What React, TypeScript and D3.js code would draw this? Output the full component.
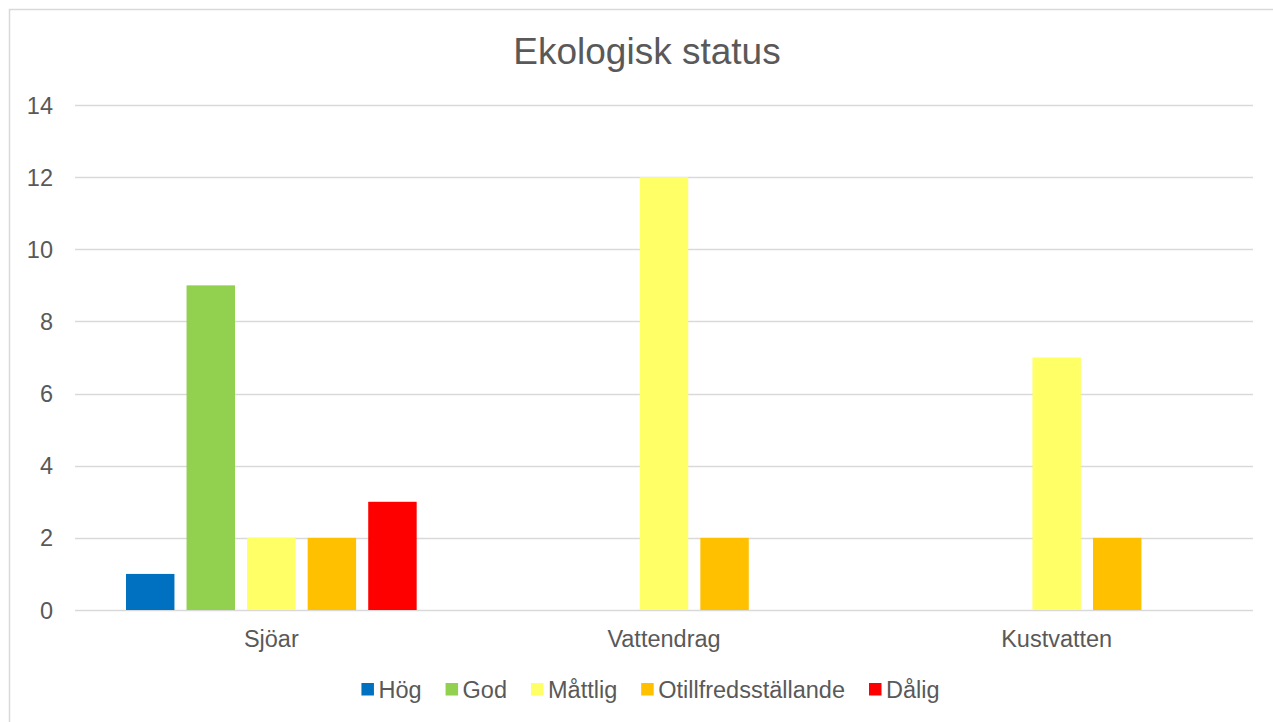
import React, { useEffect, useRef } from 'react';
import * as d3 from 'd3';

const categories = ['Sjöar', 'Vattendrag', 'Kustvatten'];
const seriesNames = ['Hög', 'God', 'Måttlig', 'Otillfredsställande', 'Dålig'];
const seriesColors = ['#0070C0', '#92D050', '#FFFF66', '#FFC000', '#FF0000'];
// values per series, one per category
const hog = [1, 0, 0];
const god = [9, 0, 0];
const mattlig = [2, 12, 7];
const otillfreds = [2, 2, 2];
const dalig = [3, 0, 0];
const yTicks = [0, 2, 4, 6, 8, 10, 12, 14];

const seriesValues = [hog, god, mattlig, otillfreds, dalig];

const W = 1273;
const H = 722;
const FONT = '"Liberation Sans", Arial, sans-serif';

export default function App() {
  const ref = useRef<SVGSVGElement>(null);

  useEffect(() => {
    const svg = d3.select(ref.current);
    svg.selectAll('*').remove();

    const left = 75, right = 1253, top = 105, bottom = 610;

    // chart border
    svg.append('rect')
      .attr('x', 9.5).attr('y', 9.5)
      .attr('width', W).attr('height', H)
      .attr('fill', 'white')
      .attr('stroke', '#d9d9d9')
      .attr('stroke-width', 1.5);

    svg.append('text')
      .attr('x', 647)
      .attr('y', 64)
      .attr('text-anchor', 'middle')
      .attr('font-family', FONT)
      .attr('font-size', 37)
      .attr('fill', '#595959')
      .text('Ekologisk status');

    const y = d3.scaleLinear().domain([0, 14]).range([bottom, top]);
    const x0 = d3.scaleBand().domain(categories).range([left, right]);
    const x1 = d3.scaleBand().domain(seriesNames)
      .range([51, x0.bandwidth() - 51])
      .paddingInner(0.2);

    // grid
    svg.append('g').selectAll('line').data(yTicks).join('line')
      .attr('x1', left).attr('x2', right)
      .attr('y1', d => Math.round(y(d)) + 0.5)
      .attr('y2', d => Math.round(y(d)) + 0.5)
      .attr('stroke', '#d9d9d9')
      .attr('stroke-width', 1.3);

    svg.append('g').selectAll('text').data(yTicks).join('text')
      .attr('x', 53)
      .attr('y', d => y(d) + 8.5)
      .attr('text-anchor', 'end')
      .attr('font-family', FONT)
      .attr('font-size', 23.5)
      .attr('fill', '#595959')
      .text(d => d);

    // bars
    seriesNames.forEach((name, si) => {
      svg.append('g').selectAll('rect')
        .data(seriesValues[si].map((v, ci) => ({ v, c: categories[ci] })).filter(d => d.v > 0))
        .join('rect')
        .attr('x', d => (x0(d.c) as number) + (x1(name) as number))
        .attr('width', x1.bandwidth())
        .attr('y', d => y(d.v))
        .attr('height', d => y(0) - y(d.v))
        .attr('fill', seriesColors[si]);
    });

    svg.append('g').selectAll('text').data(categories).join('text')
      .attr('x', d => (x0(d) as number) + x0.bandwidth() / 2)
      .attr('y', 647)
      .attr('text-anchor', 'middle')
      .attr('font-family', FONT)
      .attr('font-size', 23.5)
      .attr('fill', '#595959')
      .text(d => d);

    // legend
    const legend = svg.append('g');
    const items: { g: any; w: number }[] = [];
    seriesNames.forEach((name, i) => {
      const g = legend.append('g');
      g.append('rect').attr('x', 0).attr('y', 683).attr('width', 12.5).attr('height', 12.5)
        .attr('fill', seriesColors[i]);
      const t = g.append('text')
        .attr('x', 17).attr('y', 698)
        .attr('font-family', FONT)
        .attr('font-size', 23.5)
        .attr('fill', '#595959')
        .text(name);
      const tw = (t.node() as SVGTextElement).getComputedTextLength();
      items.push({ g, w: 17 + tw });
    });
    const gap = 24;
    const total = items.reduce((s, it) => s + it.w, 0) + gap * (items.length - 1);
    let lx = 356 + (945 - 356) / 2 - total / 2;
    items.forEach(it => {
      it.g.attr('transform', `translate(${lx},0)`);
      lx += it.w + gap;
    });
  }, []);

  return (
    <svg ref={ref} width={W} height={H}
      style={{ position: 'absolute', left: 0, top: 0, background: 'white' }} />
  );
}
